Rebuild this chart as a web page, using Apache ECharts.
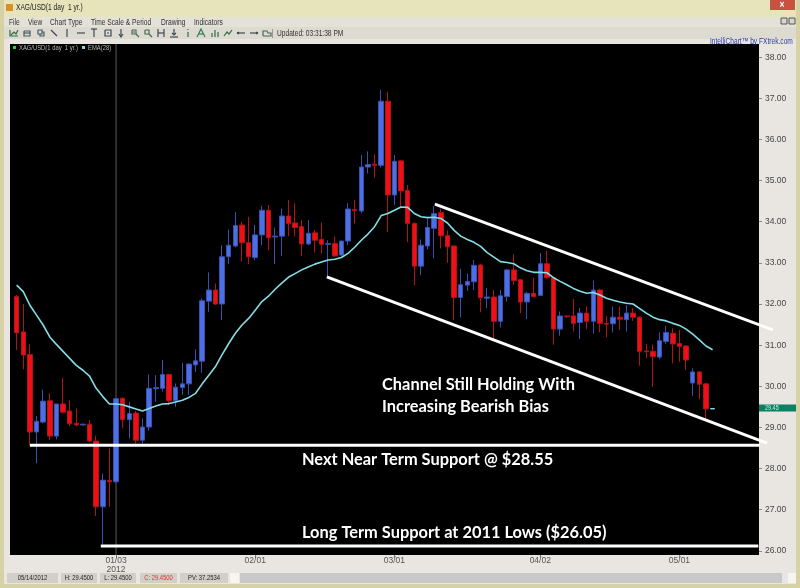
<!DOCTYPE html>
<html>
<head>
<meta charset="utf-8">
<script src="https://cdn.jsdelivr.net/npm/echarts@6/dist/echarts.min.js"></script>
<style>
  html, body { margin: 0; padding: 0; background: #e9e6e1; }
  #main { width: 800px; height: 588px; }
</style>
</head>
<body>
<div id="main"></div>
<script>
// open, close, low, high per day
var candles = [
  [32.18,31.30,30.88,32.22],[31.32,30.76,30.41,32.00],[30.77,28.89,28.57,31.02],[28.89,29.15,28.13,29.28],
  [29.13,29.64,29.10,29.92],[29.65,28.79,28.69,29.83],[28.79,29.57,28.71,29.57],[29.57,29.37,29.34,30.21],
  [29.40,29.09,29.03,29.66],[29.10,29.06,29.03,29.46],[29.06,29.08,29.05,29.09],[29.08,28.67,28.64,29.18],
  [28.67,27.07,26.85,28.80],[27.07,27.72,26.16,27.88],[27.71,27.68,27.07,28.49],[27.68,29.70,27.64,29.72],
  [29.71,29.19,28.98,29.73],[29.19,29.34,28.73,29.62],[29.35,28.69,28.61,29.40],[28.69,29.01,28.61,29.22],
  [29.01,29.95,28.92,30.29],[29.94,29.97,29.62,30.27],[29.95,30.29,29.87,30.64],[30.29,29.65,29.54,30.30],
  [29.65,29.98,29.50,30.07],[29.97,30.06,29.79,30.57],[30.06,30.54,29.79,30.56],[30.52,30.62,30.35,30.90],
  [30.61,32.08,30.33,32.14],[32.07,32.34,31.81,32.77],[32.34,32.00,31.98,32.50],[32.00,33.15,31.61,33.43],
  [33.15,33.43,32.97,33.81],[33.41,33.91,33.38,34.24],[33.92,33.49,33.03,34.00],[33.49,33.15,32.97,34.12],
  [33.13,33.68,33.07,33.92],[33.68,34.28,33.43,34.39],[34.28,33.61,33.30,34.41],[33.63,33.65,32.97,33.86],
  [33.65,34.14,33.17,34.32],[34.14,33.96,33.65,34.53],[33.97,33.86,33.64,34.45],[33.88,33.46,33.17,34.04],
  [33.46,33.72,33.43,34.04],[33.73,33.55,33.25,33.80],[33.57,33.45,33.23,33.98],[33.45,33.47,32.68,33.55],
  [33.47,33.17,33.15,33.64],[33.19,33.53,33.17,33.54],[33.53,34.31,33.43,34.45],[34.30,34.27,33.96,34.53],
  [34.26,35.33,34.20,35.62],[35.33,35.39,35.17,35.71],[35.40,35.37,35.07,35.64],[35.37,36.93,35.32,37.21],
  [36.93,34.65,33.75,37.16],[34.65,35.47,34.40,35.62],[35.48,34.75,34.36,35.50],[34.76,33.96,33.50,34.89],
  [33.96,32.92,32.46,33.98],[32.92,33.43,32.70,33.57],[33.41,33.86,33.33,34.08],[33.84,34.20,33.11,34.38],
  [34.22,33.66,33.35,34.32],[33.66,33.39,33.00,33.79],[33.41,32.16,31.61,33.43],[32.16,32.47,31.68,32.86],
  [32.46,32.55,32.32,32.74],[32.54,32.94,32.34,33.07],[32.95,32.15,31.80,32.97],[32.14,32.17,31.90,32.39],
  [32.17,31.58,31.15,32.34],[31.58,32.20,31.43,32.34],[32.18,32.83,32.06,32.85],[32.83,32.57,32.47,33.21],
  [32.59,32.05,31.78,32.61],[32.05,32.26,31.63,32.30],[32.26,32.18,32.17,32.64],[32.21,32.98,32.19,33.24],
  [32.98,32.64,32.62,33.29],[32.64,31.39,31.01,32.66],[31.39,31.71,31.23,31.82],[31.71,31.69,31.67,31.72],
  [31.71,31.53,31.33,32.12],[31.55,31.78,31.15,31.90],[31.78,31.58,31.39,31.94],[31.58,32.34,31.28,32.57],
  [32.34,31.53,31.31,32.37],[31.53,31.51,31.19,31.71],[31.52,31.68,31.31,31.94],[31.68,31.63,31.37,31.94],
  [31.62,31.78,31.33,31.98],[31.78,31.68,31.59,31.90],[31.68,30.85,30.50,31.70],[30.86,30.84,30.68,31.03],
  [30.85,30.72,29.98,31.01],[30.71,31.11,30.66,31.31],[31.09,31.31,31.03,31.47],[31.29,31.03,30.56,31.41],
  [31.04,30.97,30.60,31.37],[30.98,30.64,30.40,31.00],[30.08,30.35,29.77,30.44],[30.35,30.05,29.69,30.37],
  [30.06,29.45,29.19,30.08],[29.45,29.46,29.45,29.46]
];
var ema = [
  32.46,32.30,31.97,31.73,31.49,31.20,31.02,30.85,30.68,30.51,30.39,30.25,29.95,29.75,29.57,29.57,29.55,29.50,
  29.45,29.40,29.46,29.52,29.57,29.58,29.62,29.66,29.73,29.83,30.06,30.27,30.48,30.77,31.04,31.29,31.49,31.65,
  31.85,32.06,32.19,32.36,32.51,32.65,32.74,32.83,32.90,32.97,33.02,33.07,33.09,33.13,33.23,33.38,33.55,33.70,
  33.88,34.15,34.20,34.28,34.36,34.35,34.20,34.12,34.10,34.11,34.08,33.97,33.79,33.65,33.57,33.50,33.40,33.25,
  33.14,33.03,33.01,32.98,32.88,32.81,32.77,32.77,32.76,32.64,32.55,32.47,32.38,32.31,32.26,32.28,32.22,32.14,
  32.09,32.05,32.02,32.00,31.89,31.78,31.68,31.62,31.59,31.53,31.48,31.39,31.27,31.13,30.98,30.89
];
var slotCount = 114;
var tickSlots = [16, 37, 58, 80, 101];
var tickLabels = ['01/03\n2012', '02/01', '03/01', '04/02', '05/01'];
var yTicks = [26, 27, 28, 29, 30, 31, 32, 33, 34, 35, 36, 37, 38];
// trend lines as [slot, price] pairs
var channelUpper = [[64.1, 34.43], [115.1, 31.37]];
var channelLower = [[47.8, 32.66], [114.2, 28.62]];
var nearSupport = [[3, 28.57], [113.1, 28.57]];
var longSupport = [[13.7, 26.12], [112.9, 26.12]];
var cursorLine = [[16, 25.9], [16, 38.32]];

var red = '#f00f14';
var redDim = '#b01418';
var blue = '#4d6fe6';
var blueDim = '#3a4fae';
var cyan = '#84dde6';
var priceMin = 25.9;
var priceMax = 38.32;

var categories = [];
for (var s = 0; s < slotCount; s++) {
  categories.push(String(s));
}

function box(x, y, w, h, fill, stroke) {
  return { type: 'rect', shape: { x: x, y: y, width: w, height: h },
    style: { fill: fill, stroke: stroke || null, lineWidth: 1 }, silent: true };
}
// the screenshot was squeezed sideways, so the small window text is too
function label(x, y, text, font, fill, align) {
  return { type: 'text', x: x, y: y, z: 50, silent: true, scaleX: 0.78,
    style: { text: text, font: font, fill: fill, align: align || 'left', verticalAlign: 'middle' } };
}
function note(x, y, text) {
  return { type: 'text', x: x, y: y, z: 50, silent: true,
    style: { text: text, font: 'bold 16.4px Lato', fill: '#ffffff', verticalAlign: 'middle' } };
}

var uiFont = '8.5px "Liberation Sans"';
var smallFont = '7.5px "Liberation Sans"';
var graphics = [
  box(0, 0, 800, 17, '#e7e3ba'),
  box(0, 0, 4, 588, '#d6d2a6'),
  box(796, 0, 4, 588, '#d6d2a6'),
  box(0, 584, 800, 4, '#d6d2a6'),
  box(4, 17, 792, 10, '#e4e1d9'),
  box(4, 27, 792, 12, '#dddad2'),
  box(770, 0, 25, 10, '#c95140'),
  label(782, 5, '×', 'bold 11px "Liberation Sans"', '#ffffff', 'center'),
  box(781, 18, 6, 6, '#d8d5cd', '#555555'),
  box(789, 18, 6, 6, '#d8d5cd', '#555555'),
  label(16, 8, 'XAG/USD(1 day  1 yr.)', uiFont, '#222222'),
  box(6, 4, 7, 7, '#d8902a'),
  label(9, 23, 'File', uiFont, '#333333'),
  label(28, 23, 'View', uiFont, '#333333'),
  label(50, 23, 'Chart Type', uiFont, '#333333'),
  label(91, 23, 'Time Scale & Period', uiFont, '#333333'),
  label(161, 23, 'Drawing', uiFont, '#333333'),
  label(194, 23, 'Indicators', uiFont, '#333333'),
  label(277, 33.5, 'Updated: 03:31:38 PM', uiFont, '#333333'),
  box(272, 29, 1, 9, '#999999'),
  box(13, 46, 3, 3, '#35d13a'),
  label(19, 47.5, 'XAG/USD(1 day  1 yr.)', smallFont, '#b9b9b9'),
  box(82, 46, 3, 3, cyan),
  label(88, 47.5, 'EMA(28)', smallFont, '#b9b9b9'),
  label(710, 42, 'IntelliChart™ by FXtrek.com', uiFont, '#2a35a8'),
  box(759, 404.5, 37, 7, '#0b8062'),
  label(765, 408, '29.45', '7px "Liberation Sans"', '#d8efe6'),
  box(7, 573, 51, 10, '#d2cfc8'),
  label(32.5, 578, '05/14/2012', smallFont, '#222222', 'center'),
  box(61, 573, 36, 10, '#d2cfc8'),
  label(79, 578, 'H: 29.4500', smallFont, '#222222', 'center'),
  box(100, 573, 36, 10, '#d2cfc8'),
  label(118, 578, 'L: 29.4500', smallFont, '#222222', 'center'),
  box(140, 573, 37, 10, '#d2cfc8'),
  label(158.5, 578, 'C: 29.4500', smallFont, '#e03030', 'center'),
  box(180, 573, 48, 10, '#d2cfc8'),
  label(204, 578, 'PV: 37.2534', smallFont, '#222222', 'center'),
  box(230, 573, 9, 10, '#f6f5f2'),
  box(240, 573, 542, 10, '#c8c8c8'),
  box(782, 573, 5, 10, '#e6e6e6'),
  box(788, 573, 8, 10, '#f6f5f2'),
  note(382, 385, 'Channel Still Holding With'),
  note(382, 407, 'Increasing Bearish Bias'),
  note(302, 460, 'Next Near Term Support @ $28.55'),
  note(302, 533, 'Long Term Support at 2011 Lows ($26.05)')
];

// toolbar icons, drawn as little strokes around each icon's centre
var iconStrokes = [
  [14, '#2f6b45', [[-4,-3,-4,3,4,3], [-3,2,0,-1,2,1,4,-3]]],
  [27, '#4a5a60', [[-3,-2,3,-2,3,3,-3,3,-3,-2], [-3,0,3,0]]],
  [41, '#4a5a60', [[-3,-3,1,-3,1,1,-3,1,-3,-3], [-1,1,-1,3,3,3,3,-1,1,-1]]],
  [54, '#3e4a50', [[-3,-3,3,3]]],
  [67, '#3e4a50', [[0,-4,0,4]]],
  [81, '#3e4a50', [[-4,0,4,0]]],
  [94, '#3e4a50', [[-3,-4,3,-4], [0,-4,0,4]]],
  [108, '#3e4a50', [[-3,-3,3,-3,3,3,-3,3,-3,-3], [-1,0,1,0]]],
  [121, '#3e4a50', [[0,-4,0,3], [-2,1,0,4,2,1]]],
  [135, '#4a6a55', [[-3,-3,1,-3,1,1,-3,1,-3,-3], [1,1,4,4], [-2,-1,0,-1]]],
  [148, '#4a6a55', [[-3,-3,1,-3,1,1,-3,1,-3,-3], [1,1,4,4]]],
  [161, '#3e4a50', [[-3,-4,-3,4], [3,-4,3,4], [-3,0,3,0]]],
  [174, '#3e4a50', [[-4,4,4,4], [0,-4,0,2], [-2,0,0,2,2,0]]],
  [188, '#2f6b45', [[0,-4,0,-3], [0,-1,0,4]]],
  [201, '#2f7d50', [[-4,4,0,-4,4,4], [-2,1,2,1]]],
  [215, '#2f6b45', [[-3,4,-3,0], [0,4,0,-3], [3,4,3,-1]]],
  [228, '#2f6b45', [[-4,3,-1,-1,1,1,4,-3]]],
  [241, '#3e4a50', [[-4,0,4,0], [-4,0,-2,-1], [-4,0,-2,1]]],
  [254, '#3e4a50', [[-4,0,4,0], [4,0,2,-1], [4,0,2,1]]],
  [267, '#4a6a55', [[-4,3,-4,-2,0,-2,1,0,4,0,4,3,-4,3]]]
];
iconStrokes.forEach(function (icon) {
  icon[2].forEach(function (pts) {
    var points = [];
    for (var k = 0; k < pts.length; k += 2) {
      points.push([icon[0] + pts[k], 33 + pts[k + 1]]);
    }
    graphics.push({ type: 'polyline', silent: true, shape: { points: points },
      style: { stroke: icon[1], lineWidth: 1.2, fill: null } });
  });
});

function trend(points, color, width, z) {
  return {
    type: 'line', xAxisIndex: 1, yAxisIndex: 1, data: points, symbol: 'none', silent: true, z: z,
    lineStyle: { color: color, width: width }
  };
}

var chart = echarts.init(document.getElementById('main'), null, { renderer: 'canvas' });
chart.setOption({
  animation: false,
  backgroundColor: '#e9e6e1',
  textStyle: { fontFamily: 'Liberation Sans' },
  grid: [
    { left: 10, right: 41, top: 44, bottom: 33, show: true, backgroundColor: '#000000', borderWidth: 0 },
    // same slot size as the price grid but wider, the channel lines run past the plot
    { left: 10, right: 0, top: 44, bottom: 33, show: false }
  ],
  xAxis: [
    {
      type: 'category', gridIndex: 0, data: categories, boundaryGap: false,
      axisLine: { show: false },
      splitLine: { show: false },
      axisTick: {
        length: 3, lineStyle: { color: '#888888' },
        alignWithLabel: true,
        interval: function (i) { return tickSlots.indexOf(i) >= 0; }
      },
      axisLabel: {
        color: '#555555', fontSize: 8.5, margin: 1.5, lineHeight: 9,
        interval: function (i) { return tickSlots.indexOf(i) >= 0; },
        formatter: function (v, i) { return tickLabels[tickSlots.indexOf(i)] || ''; }
      }
    },
    { type: 'value', gridIndex: 1, min: 0, max: 119.19, show: false }
  ],
  yAxis: [
    {
      type: 'value', gridIndex: 0, position: 'right', min: priceMin, max: priceMax,
      splitLine: { show: false },
      axisLine: { show: false, onZero: false },
      axisTick: { show: true, length: 3, lineStyle: { color: '#888888' }, customValues: yTicks },
      axisLabel: {
        color: '#444444', fontSize: 8.5, margin: 6, customValues: yTicks,
        formatter: function (v) { return v.toFixed(2); }
      }
    },
    { type: 'value', gridIndex: 1, min: priceMin, max: priceMax, show: false }
  ],
  series: [
    trend(cursorLine, '#5c5c5c', 1, 1),
    {
      type: 'candlestick',
      xAxisIndex: 0, yAxisIndex: 0,
      z: 2,
      encode: { x: 0, y: [1, 2, 3, 4] },
      barWidth: 5,
      itemStyle: { color: blue, color0: red, borderColor: blueDim, borderColor0: redDim, borderWidth: 1 },
      data: candles.map(function (c, i) {
        var row = { value: [i + 1, c[0], c[1], c[2], c[3]] };
        if (i === candles.length - 1) {
          row.itemStyle = { color: cyan, borderColor: cyan };
        }
        return row;
      })
    },
    {
      type: 'line', xAxisIndex: 0, yAxisIndex: 0, z: 3, symbol: 'none', silent: true,
      lineStyle: { color: cyan, width: 1.6 },
      data: ema.map(function (v, i) { return [i + 1, v]; })
    },
    trend(channelUpper, '#ffffff', 3, 4),
    trend(channelLower, '#ffffff', 3, 4),
    trend(nearSupport, '#ffffff', 3, 4),
    trend(longSupport, '#ffffff', 3, 4)
  ],
  graphic: graphics
});
</script>
</body>
</html>
